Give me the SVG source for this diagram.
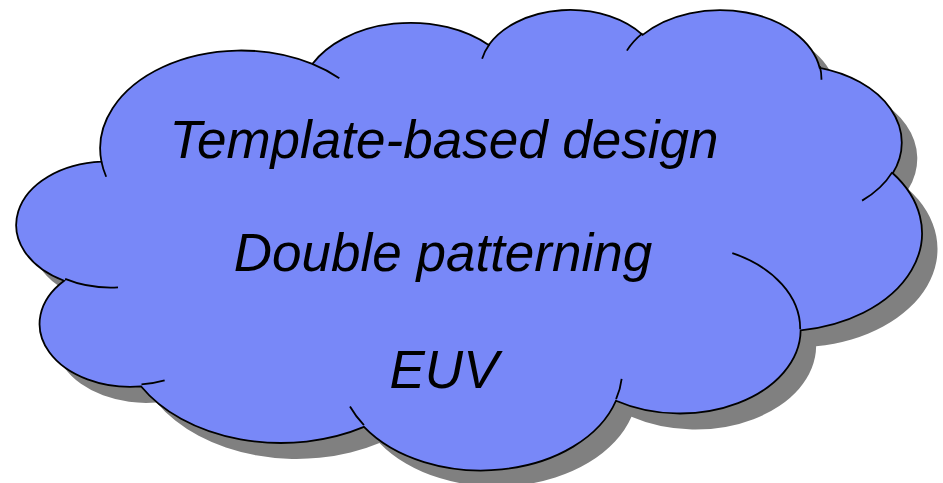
<svg xmlns="http://www.w3.org/2000/svg" width="943" height="483" viewBox="0 0 943 483">
  <style>
    .shadow { fill: #808080; stroke: none; }
    .body { fill: #7888f8; stroke: #000000; stroke-width: 1.8; vector-effect: non-scaling-stroke; }
    .tail { fill: none; stroke: #000000; stroke-width: 1.8; vector-effect: non-scaling-stroke; }
    .label { font-family: "Liberation Sans", Arial, sans-serif; font-style: italic; font-size: 53px; fill: #000000; text-anchor: middle; }
  </style>
  <g id="cloud">
    <g id="cloud-shadow" transform="translate(35.56 24.5) scale(0.020869 0.010656)">
      <path class="shadow" d="M3900 14370 A6753 9190 0 0 1 14005 5202 A5333 7267 0 0 1 22456 3431 A4365 5945 0 0 1 29833 2479 A4857 6595 0 0 1 38318 5575 A5333 7273 0 0 1 41818 15459 A6775 9220 0 0 1 37404 30201 A5785 7867 0 0 1 28555 36811 A6752 9215 0 0 1 16481 39264 A7720 10543 0 0 1 5804 35468 A4360 5918 0 0 1 2112 25547 A4345 5945 0 0 1 3900 14370 Z"/>
    </g>
    <g id="cloud-body" transform="translate(20.06 8.5) scale(0.020869 0.010656)">
      <path class="body" d="M3900 14370 A6753 9190 0 0 1 14005 5202 A5333 7267 0 0 1 22456 3431 A4365 5945 0 0 1 29833 2479 A4857 6595 0 0 1 38318 5575 A5333 7273 0 0 1 41818 15459 A6775 9220 0 0 1 37404 30201 A5785 7867 0 0 1 28555 36811 A6752 9215 0 0 1 16481 39264 A7720 10543 0 0 1 5804 35468 A4360 5918 0 0 1 2112 25547 A4345 5945 0 0 1 3900 14370 Z"/>
      <path class="tail" d="M4693 26177 A4345 5945 0 0 1 2160 25379 M6928 34899 A4360 5918 0 0 1 5819 35281 M16478 39090 A6752 9215 0 0 1 15810 37349 M28827 34751 A6752 9215 0 0 1 28561 36660 M34129 22954 A5785 7867 0 0 1 37381 30090 M41798 15354 A5333 7273 0 0 1 40349 18031 M38324 5426 A4857 6595 0 0 1 38400 6689 M29078 3952 A4857 6595 0 0 1 29820 2339 M22141 4720 A4365 5945 0 0 1 22500 3330 M14000 5192 A6753 9190 0 0 1 15298 6538 M4127 15789 A6753 9190 0 0 1 3901 14372"/>
    </g>
    <g id="cloud-text">
      <text class="label" x="444" y="158">Template-based design</text>
      <text class="label" x="443" y="271">Double patterning</text>
      <text class="label" x="444" y="388">EUV</text>
    </g>
  </g>
</svg>
